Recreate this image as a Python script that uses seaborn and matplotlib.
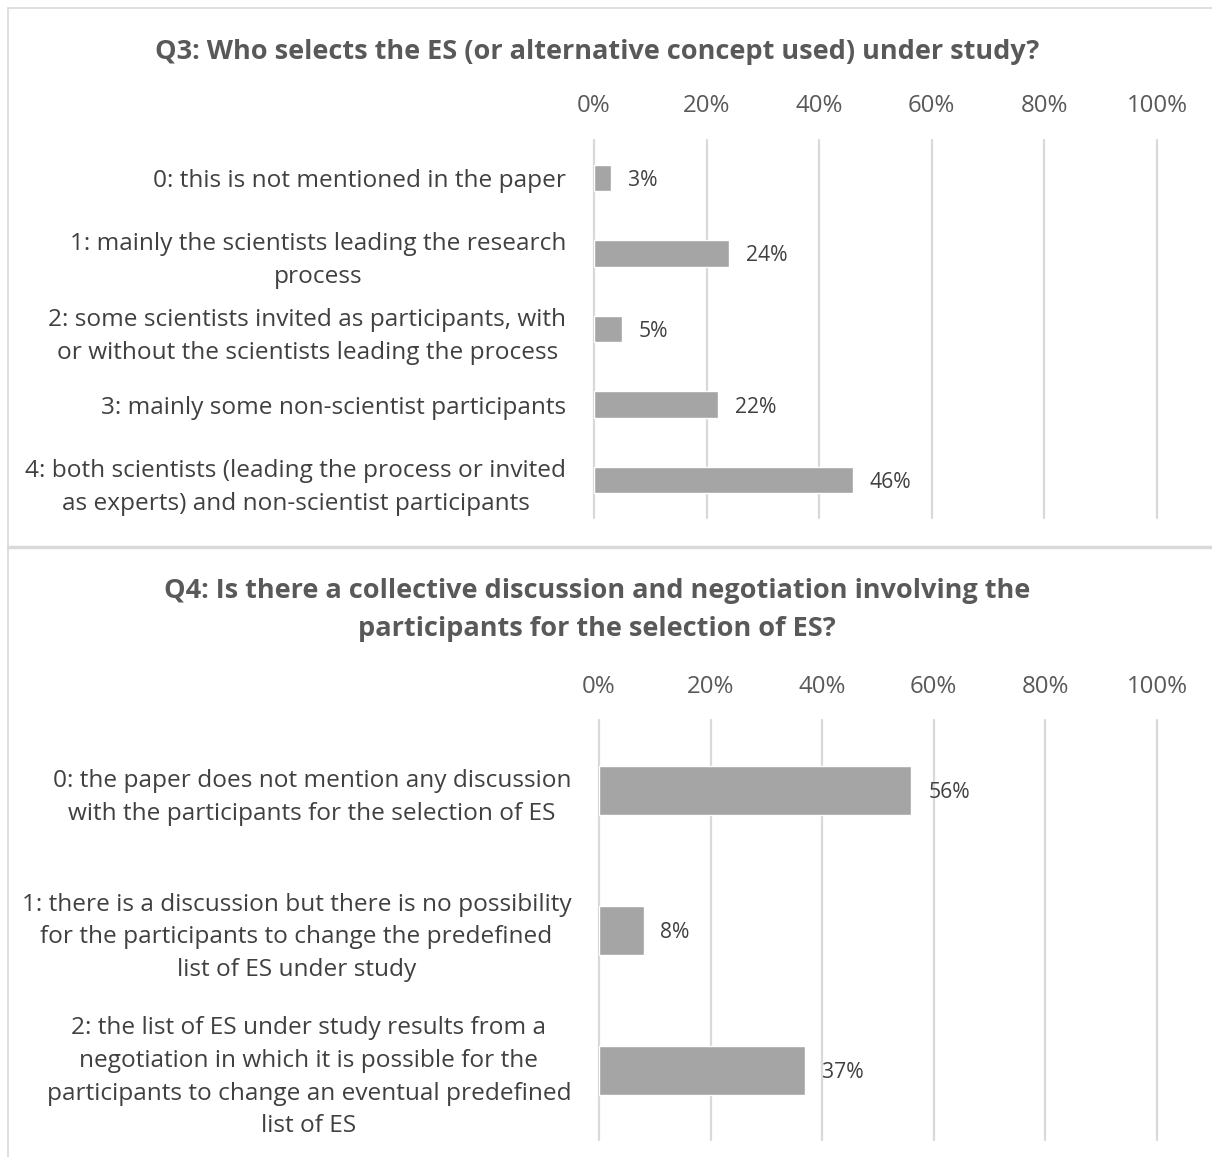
import matplotlib
matplotlib.use("Agg")
import matplotlib.pyplot as plt
import seaborn as sns
from matplotlib.lines import Line2D

sns.set_style("white")
plt.rcParams['font.family'] = ['Open Sans', 'DejaVu Sans']

# ---- data ----
q3_title = "Q3: Who selects the ES (or alternative concept used) under study?"
q3_labels = [
    "0: this is not mentioned in the paper",
    "1: mainly the scientists leading the research\nprocess",
    "2: some scientists invited as participants, with\nor without the scientists leading the process",
    "3: mainly some non-scientist participants",
    "4: both scientists (leading the process or invited\nas experts) and non-scientist participants",
]
q3_values = [0.03, 0.24, 0.05, 0.22, 0.46]

q4_title = "Q4: Is there a collective discussion and negotiation involving the\nparticipants for the selection of ES?"
q4_labels = [
    "0: the paper does not mention any discussion\nwith the participants for the selection of ES",
    "1: there is a discussion but there is no possibility\nfor the participants to change the predefined\nlist of ES under study",
    "2: the list of ES under study results from a\nnegotiation in which it is possible for the\nparticipants to change an eventual predefined\nlist of ES",
]
q4_values = [0.56, 0.08, 0.37]

x_ticks = [0, 0.2, 0.4, 0.6, 0.8, 1.0]
x_ticklabels = ["0%", "20%", "40%", "60%", "80%", "100%"]

W, H = 1212, 1157
fig = plt.figure(figsize=(W / 100, H / 100), dpi=100)

BAR = "#A5A5A5"
GRID = "#D9D9D9"
TXT = "#404040"
TICK = "#595959"


def panel(rect_px, labels, values, title, title_y, tick_pad):
    x0, y0, x1, y1 = rect_px
    ax = fig.add_axes([x0 / W, 1 - y1 / H, (x1 - x0) / W, (y1 - y0) / H])
    sns.barplot(x=values, y=list(range(len(values))), orient="h", color=BAR,
                width=0.35, ax=ax, saturation=1)
    ax.set_xlim(0, 1)
    ax.set_axisbelow(True)
    ax.grid(axis="x", color=GRID, lw=1.6)
    ax.grid(axis="y", visible=False)
    for s in ax.spines.values():
        s.set_visible(False)
    ax.xaxis.tick_top()
    ax.set_xticks(x_ticks)
    ax.set_xticklabels(x_ticklabels, color=TICK, fontsize=17.3)
    ax.tick_params(axis="x", length=0, pad=tick_pad)
    ax.set_yticks(range(len(labels)))
    ax.set_yticklabels(labels, color=TXT, fontsize=17.6, multialignment="center",
                       linespacing=1.48)
    ax.tick_params(axis="y", length=0, pad=20)
    ax.set_xlabel("")
    ax.set_ylabel("")
    for c in ax.containers:
        anns = ax.bar_label(c, labels=[f"{v:.0%}" for v in values], padding=12,
                            color=TXT, fontsize=15.2)
        for a in anns:
            a.set_va("center_baseline")
    for gl in ax.get_xgridlines():
        gl.set_clip_on(False)
    fig.text(597 / W, 1 - title_y / H, title, ha="center", va="center",
             fontsize=19.5, fontweight="bold", color=TICK, linespacing=1.6)
    return ax


panel((594, 140, 1157, 518), q3_labels, q3_values, q3_title, 52, 16)
panel((599, 720, 1157, 1140), q4_labels, q4_values, q4_title, 610, 15)

# panel borders
fig.add_artist(Line2D([8 / W, 1], [1 - 8 / H, 1 - 8 / H], color=GRID, lw=1.2))
fig.add_artist(Line2D([8 / W, 8 / W], [1 - 8 / H, 0], color=GRID, lw=1.2))
fig.add_artist(Line2D([8 / W, 1], [1 - 547 / H, 1 - 547 / H], color=GRID, lw=2.5))

fig.savefig("out.png", dpi=100, facecolor="white")
